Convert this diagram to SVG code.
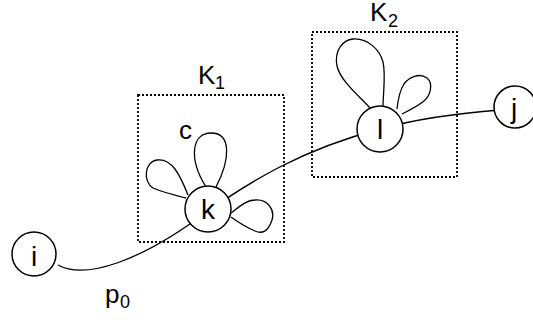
<svg xmlns="http://www.w3.org/2000/svg" width="533" height="320" viewBox="0 0 533 320">
<style>
.ln{fill:none;stroke:#000;stroke-width:1.3}
.nd{fill:#fff;stroke:#000;stroke-width:1.5}
.box{fill:none;stroke:#000;stroke-width:1.8;stroke-dasharray:2 2}
.t{font-family:"Liberation Sans",Arial,sans-serif;font-size:26px;fill:#000}
.n{font-family:"Liberation Sans",Arial,sans-serif;font-size:28px;fill:#000}
.s{font-family:"Liberation Sans",Arial,sans-serif;font-size:18px;fill:#000}
</style>
<rect width="533" height="320" fill="#fff"/>
<g id="K1">
<rect class="box" x="138" y="95" width="146" height="147"/>
<text class="t" x="198" y="84">K</text><text class="s" x="215" y="89">1</text>
</g>
<g id="K2">
<rect class="box" x="312" y="32" width="145" height="145"/>
<text class="t" x="370" y="21">K</text><text class="s" x="388" y="27">2</text>
</g>
<g id="connectors">
<path class="ln" d="M58,265 C 85,280 140,262 208,211 C 250,182 300,150 380,129 C 420,118 460,113 500,110"/>
<path class="ln" d="M206,187 C 188,158 192,133 211,133 C 232,133 230,160 216,187"/>
<path class="ln" d="M188,195 C 180,175 172,158 157,160 C 144,162 143,182 153,188 C 165,193 175,195 186,198"/>
<path class="ln" d="M231,213 C 240,206 247,200 255,200 C 268,199 275,210 272,220 C 268,232 262,234 255,231 C 245,227 238,222 231,217"/>
<path class="ln" d="M370,108 C 358,95 340,80 337,66 C 334,50 343,40 353,39 C 368,38 380,50 383,62 C 386,75 383,95 383,106"/>
<path class="ln" d="M397,109 C 398,100 400,90 404,84 C 410,76 420,73 427,78 C 434,84 430,96 424,101 C 418,106 410,110 402,114"/>
</g>
<g id="node-i"><circle class="nd" cx="34" cy="254" r="22"/><text class="n" x="34" y="266" text-anchor="middle">i</text></g>
<g id="node-k"><circle class="nd" cx="208" cy="209" r="23"/><text class="n" x="208" y="219" text-anchor="middle">k</text></g>
<g id="node-l"><circle class="nd" cx="380" cy="129" r="23"/><text class="n" x="380" y="139" text-anchor="middle">l</text></g>
<g id="node-j"><circle class="nd" cx="515" cy="107" r="21"/><text class="n" x="514" y="118" text-anchor="middle">j</text></g>
<text class="t" x="179" y="139">c</text>
<text class="t" x="105" y="303">p</text><text class="s" x="120" y="308">0</text>
</svg>
